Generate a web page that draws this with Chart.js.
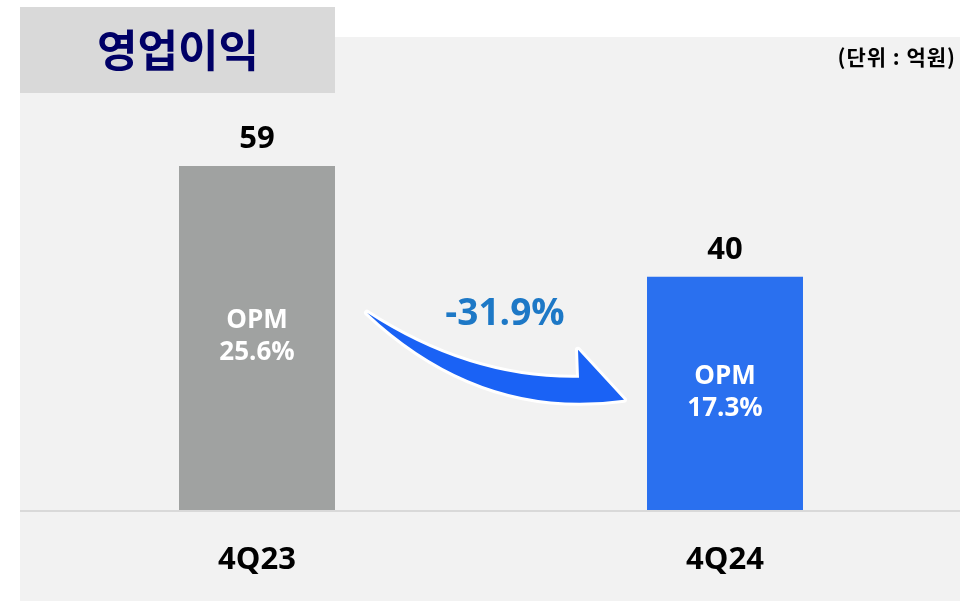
<!DOCTYPE html>
<html>
<head>
<meta charset="utf-8">
<script src="https://cdn.jsdelivr.net/npm/chart.js@4/dist/chart.umd.min.js"></script>
<style>
	body { margin: 0; background: #ffffff; }
	#wrap { width: 976px; height: 601px; position: relative; }
</style>
</head>
<body>
<div id="wrap"><canvas id="chart"></canvas></div>
<script>
	'use strict';

	// data
	var categories = [ '4Q23', '4Q24' ];
	var profit = [ 59, 40 ];          // 억원
	var opm = [ '25.6%', '17.3%' ];
	var barColors = [ '#a0a2a1', '#2a70ef' ];
	var change = '-31.9%';

	var latin = '"Open Sans", "Noto Sans CJK KR", sans-serif';
	var hangul = '"Noto Sans CJK KR", sans-serif';

	// panel, title box, baseline
	var backdrop = {
		id: 'backdrop',
		beforeDraw: function( chart ) {
			var ctx = chart.ctx;
			ctx.save();
			ctx.fillStyle = '#ffffff';
			ctx.fillRect( 0, 0, chart.width, chart.height );
			ctx.fillStyle = '#f2f2f2';
			ctx.fillRect( 20, 37, 940, 564 );
			ctx.fillStyle = '#d9d9d9';
			ctx.fillRect( 20, 7, 315, 86 );

			ctx.fillStyle = '#000066';
			ctx.font = 'bold 44px ' + hangul;
			ctx.textAlign = 'center';
			ctx.textBaseline = 'middle';
			ctx.fillText( '영업이익', 178, 50 );

			ctx.fillStyle = '#000000';
			ctx.font = 'bold 21px ' + hangul;
			ctx.textAlign = 'right';
			ctx.letterSpacing = '1px';
			ctx.fillText( '(단위 : 억원)', 956, 57 );
			ctx.letterSpacing = '0px';

			var y = chart.scales.y.getPixelForValue( 0 );
			ctx.strokeStyle = '#d9d9d9';
			ctx.lineWidth = 2;
			ctx.beginPath();
			ctx.moveTo( 20, y + 1 );
			ctx.lineTo( 960, y + 1 );
			ctx.stroke();
			ctx.restore();
		}
	};

	// values over bars, OPM inside, arrow with change
	var labels = {
		id: 'labels',
		afterDatasetsDraw: function( chart ) {
			var ctx = chart.ctx;
			var bars = chart.getDatasetMeta( 0 ).data;
			var base = chart.scales.y.getPixelForValue( 0 );
			ctx.save();
			ctx.textAlign = 'center';
			ctx.textBaseline = 'middle';

			bars.forEach( function( b, i ) {
				ctx.fillStyle = '#000000';
				ctx.font = 'bold 31px ' + latin;
				ctx.fillText( String( profit[ i ] ), b.x, b.y - 27 );

				var mid = ( b.y + base ) / 2;
				ctx.fillStyle = '#ffffff';
				ctx.font = 'bold 26px ' + latin;
				ctx.fillText( 'OPM', b.x, mid - 17 );
				ctx.fillText( opm[ i ], b.x, mid + 15 );
			} );

			// curved arrow between the bars
			var b1 = bars[ 0 ], b2 = bars[ 1 ];
			var tx = b1.x + b1.width / 2 + 32, ty = b2.y + 36;
			var px = b2.x - b2.width / 2 - 23, py = b2.y + 123;
			ctx.beginPath();
			ctx.moveTo( tx, ty );
			ctx.quadraticCurveTo( tx + 103, ty + 67, px - 45, py - 22 );
			ctx.lineTo( px - 46, py - 50 );
			ctx.lineTo( px, py );
			ctx.quadraticCurveTo( px - 143, py + 20, tx, ty );
			ctx.closePath();
			ctx.lineJoin = 'round';
			ctx.strokeStyle = '#ffffff';
			ctx.lineWidth = 6;
			ctx.stroke();
			ctx.fillStyle = '#1a62f5';
			ctx.fill();

			ctx.fillStyle = '#1d78c6';
			ctx.font = 'bold 37px ' + latin;
			ctx.fillText( change, ( b1.x + b2.x ) / 2 + 14, b2.y + 38 );
			ctx.restore();
		}
	};

	var ctx = document.getElementById( 'chart' ).getContext( '2d' );
	window.opChart = new Chart( ctx, {
		type: 'bar',
		data: {
			labels: categories,
			datasets: [ {
				data: profit,
				backgroundColor: barColors,
				borderWidth: 0,
				barPercentage: 1,
				categoryPercentage: 0.3333
			} ]
		},
		options: {
			responsive: true,
			maintainAspectRatio: false,
			animation: false,
			events: [],
			layout: { padding: { left: 23, right: 17, top: 100, bottom: 24 } },
			plugins: { legend: { display: false }, tooltip: { enabled: false } },
			scales: {
				x: {
					grid: { display: false },
					border: { display: false },
					afterFit: function( scale ) { scale.height = 67; },
					ticks: {
						color: '#000000',
						padding: 24,
						font: { family: latin, size: 31, weight: 'bold' }
					}
				},
				y: { display: false, min: 0, max: 70.3 }
			}
		},
		plugins: [ backdrop, labels ]
	} );
</script>
</body>
</html>
